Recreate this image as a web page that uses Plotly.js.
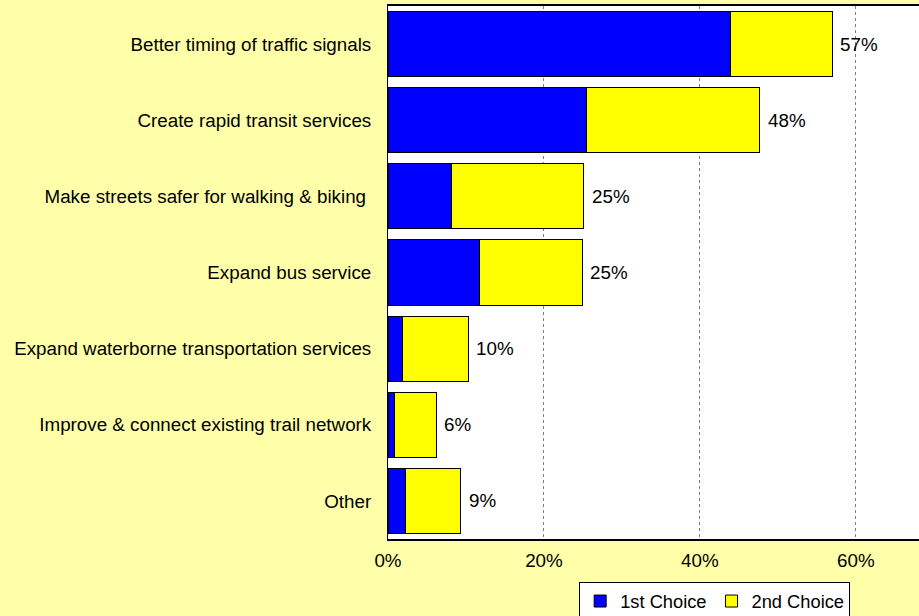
<!DOCTYPE html>
<html>
<head>
<meta charset="utf-8">
<script src="https://cdn.plot.ly/plotly-3.0.1.min.js"></script>
<style>html,body{margin:0;padding:0;background:#FFFFAA;}#chart{width:919px;height:616px;}</style>
</head>
<body>
<div id="chart"></div>
<script>
var categories = [
  "Better timing of traffic signals",
  "Create rapid transit services",
  "Make streets safer for walking & biking ",
  "Expand bus service",
  "Expand waterborne transportation services",
  "Improve & connect existing trail network",
  "Other"
];
var firstChoice = [43.9, 25.4, 8.2, 11.7, 1.8, 0.8, 2.3];
var secondChoice = [13.1, 22.3, 16.9, 13.2, 8.5, 5.4, 7.0];
var totalLabels = ["57%", "48%", "25%", "25%", "10%", "6%", "9%"];
var tickValues = [0, 20, 40, 60];
var tickLabels = ["0%", "20%", "40%", "60%"];

var FONT = "Liberation Sans, Arial, sans-serif";

var traces = [
  {
    type: "bar", orientation: "h", name: "1st Choice",
    y: categories, x: firstChoice,
    marker: {color: "#0000FF", line: {color: "#000000", width: 1}},
    hoverinfo: "skip"
  },
  {
    type: "bar", orientation: "h", name: "2nd Choice",
    y: categories, x: secondChoice,
    marker: {color: "#FFFF00", line: {color: "#000000", width: 1}},
    hoverinfo: "skip"
  }
];

var annotations = categories.map(function (c, i) {
  return {
    x: firstChoice[i] + secondChoice[i], y: c,
    xref: "x", yref: "y",
    text: totalLabels[i], showarrow: false,
    xanchor: "left", yanchor: "middle", xshift: 6,
    font: {family: FONT, size: 18.8, color: "#000000"}
  };
});

var layout = {
  width: 919, height: 616,
  margin: {l: 388, r: 0, t: 6, b: 77, pad: 0, autoexpand: false},
  paper_bgcolor: "#FFFFAA",
  plot_bgcolor: "#FFFFFF",
  barmode: "stack",
  bargap: 0.145,
  font: {family: FONT, size: 18.8, color: "#000000"},
  xaxis: {
    range: [0, 68.1],
    tickvals: tickValues, ticktext: tickLabels,
    showgrid: true, gridcolor: "#808080", griddash: "dot", gridwidth: 1,
    zeroline: false,
    showline: true, linecolor: "#000000", linewidth: 2, mirror: true,
    ticks: "", ticklabelstandoff: 3,
    tickfont: {family: FONT, size: 18.8, color: "#000000"},
    fixedrange: true, automargin: false
  },
  yaxis: {
    autorange: "reversed",
    showgrid: false, zeroline: false,
    showline: true, linecolor: "#000000", linewidth: 1,
    ticks: "", ticklabelstandoff: 12,
    tickfont: {family: FONT, size: 18.8, color: "#000000"},
    fixedrange: true, automargin: false
  },
  showlegend: true,
  legend: {
    orientation: "h",
    x: 0.36, xanchor: "left",
    y: -0.08, yanchor: "top",
    bgcolor: "#FFFFFF", bordercolor: "#000000", borderwidth: 1,
    font: {family: FONT, size: 18.3, color: "#000000"},
    traceorder: "normal"
  },
  annotations: annotations
};

Plotly.newPlot("chart", traces, layout, {displayModeBar: false, staticPlot: true});
</script>
</body>
</html>
